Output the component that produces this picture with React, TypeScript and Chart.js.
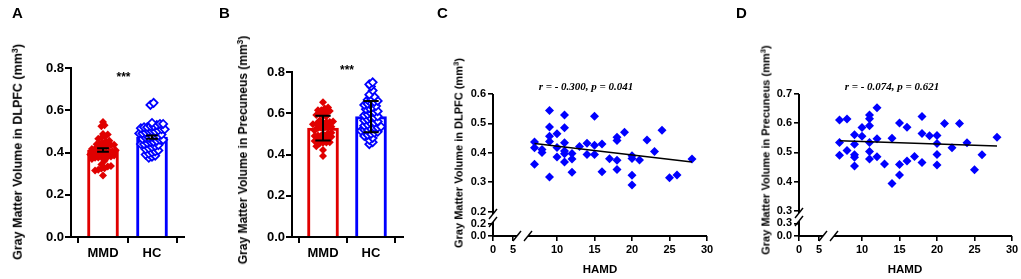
import React, { useEffect, useRef } from 'react';
import { Chart, registerables } from 'chart.js';
Chart.register(...registerables);

const RED = 'rgb(224,0,0)';
const BLUE = 'rgb(0,0,255)';
const SANS = '"Liberation Sans", Arial, Helvetica, sans-serif';
const SERIF = '"Liberation Serif", "Times New Roman", serif';

// ---------- Panels A / B (group bars) ----------
const groups = ['MMD', 'HC'];
const meanDLPFC = [0.412, 0.473];
const errDLPFC = [0.008, 0.008];
const meanPrec = [0.528, 0.584];
const errPrec = [0.06, 0.076];
const hcDLPFC = [0.635, 0.625, 0.54, 0.535, 0.535, 0.53, 0.525, 0.525, 0.52, 0.52, 0.515, 0.51, 0.51, 0.505, 0.5, 0.5, 0.5, 0.495, 0.49, 0.49, 0.485, 0.48, 0.48, 0.475, 0.47, 0.47, 0.465, 0.46, 0.46, 0.455, 0.45, 0.45, 0.445, 0.44, 0.44, 0.435, 0.43, 0.425, 0.42, 0.415, 0.41, 0.405, 0.4, 0.395, 0.39, 0.385, 0.38, 0.375];
const hcPrec = [0.75, 0.74, 0.73, 0.71, 0.69, 0.68, 0.67, 0.665, 0.66, 0.655, 0.65, 0.645, 0.64, 0.635, 0.63, 0.625, 0.62, 0.61, 0.605, 0.6, 0.595, 0.59, 0.585, 0.58, 0.575, 0.57, 0.565, 0.56, 0.555, 0.55, 0.545, 0.54, 0.535, 0.53, 0.53, 0.525, 0.52, 0.52, 0.515, 0.51, 0.505, 0.5, 0.495, 0.49, 0.48, 0.47, 0.46, 0.45];
const yTicksBar = [0, 0.2, 0.4, 0.6, 0.8];

// ---------- Panels C / D (HAMD correlations, MMD patients) ----------
const hamdC = [7, 7, 7, 8, 8, 9, 9, 9, 9, 9, 10, 10, 10, 11, 11, 11, 11, 11, 11, 12, 12, 12, 13, 14, 14, 15, 15, 15, 16, 16, 17, 18, 18, 18, 18, 19, 20, 20, 20, 20, 21, 22, 23, 24, 25, 26, 28];
const dlpfcC = [0.437, 0.417, 0.361, 0.411, 0.401, 0.544, 0.488, 0.456, 0.439, 0.318, 0.465, 0.418, 0.386, 0.529, 0.485, 0.434, 0.406, 0.397, 0.369, 0.398, 0.379, 0.334, 0.422, 0.433, 0.394, 0.524, 0.426, 0.394, 0.43, 0.336, 0.38, 0.453, 0.442, 0.375, 0.343, 0.47, 0.39, 0.381, 0.324, 0.291, 0.376, 0.444, 0.405, 0.477, 0.315, 0.325, 0.379];
const hamdD = [7, 7, 7, 8, 8, 9, 9, 9, 9, 9, 10, 10, 11, 11, 11, 11, 11, 11, 12, 12, 12, 13, 14, 14, 15, 15, 15, 16, 16, 17, 18, 18, 18, 19, 20, 20, 20, 20, 21, 22, 23, 24, 25, 26, 28];
const precD = [0.611, 0.534, 0.49, 0.614, 0.506, 0.56, 0.528, 0.492, 0.483, 0.453, 0.585, 0.555, 0.628, 0.615, 0.591, 0.534, 0.503, 0.477, 0.653, 0.547, 0.485, 0.46, 0.548, 0.393, 0.601, 0.458, 0.422, 0.586, 0.47, 0.486, 0.623, 0.565, 0.465, 0.557, 0.558, 0.53, 0.493, 0.457, 0.599, 0.516, 0.599, 0.533, 0.44, 0.492, 0.552];
const fitC = [{ x: 7, y: 0.432 }, { x: 28, y: 0.369 }];
const fitD = [{ x: 7, y: 0.54 }, { x: 28, y: 0.522 }];
const xTicksLow = [0, 5];
const xTicksHigh = [10, 15, 20, 25, 30];
const yTicksC = [0.2, 0.3, 0.4, 0.5, 0.6];
const yTicksCLow = [0, 0.2];
const yTicksD = [0.3, 0.4, 0.5, 0.6, 0.7];
const yTicksDLow = [0, 0.3];

// beeswarm-like arrangement: values in the same row are spread sideways
function swarm(values: number[], center: number, bin: number, step: number) {
  const sorted = [...values].sort((a, b) => a - b);
  const rows = new Map<number, number[]>();
  for (const v of sorted) {
    const k = Math.round(v / bin);
    if (!rows.has(k)) rows.set(k, []);
    rows.get(k)!.push(v);
  }
  const pts: { x: number; y: number }[] = [];
  rows.forEach((row) => {
    const n = row.length;
    row.forEach((v, i) => pts.push({ x: center + (i - (n - 1) / 2) * step, y: v }));
  });
  return pts;
}

function errorBar(center: number, mean: number, err: number, cap: number) {
  return [
    { x: center - cap, y: mean + err }, { x: center + cap, y: mean + err }, { x: center, y: null },
    { x: center, y: mean + err }, { x: center, y: mean - err }, { x: center, y: null },
    { x: center - cap, y: mean - err }, { x: center + cap, y: mean - err },
  ];
}

function barConfig(p: any) {
  const tickFont = { family: SANS, size: 13, weight: 'bold' as const };
  const grid = { display: true, drawOnChartArea: false, drawTicks: true, tickLength: 6, color: '#000', lineWidth: 2 };
  const border = { display: true, color: '#000', width: 2 };
  return {
    type: 'scatter',
    data: {
      datasets: [
        { type: 'bar', data: p.means.map((m: number, i: number) => ({ x: i, y: m })), backgroundColor: '#fff', borderColor: [RED, BLUE], borderWidth: 3, barThickness: 31, order: 3 },
        { type: 'scatter', data: swarm(p.mmd, 0, p.bin, p.step), pointStyle: 'rectRot', radius: 4, backgroundColor: RED, borderColor: RED, borderWidth: 0, order: 2 },
        { type: 'scatter', data: swarm(p.hc, 1, p.bin, p.step), pointStyle: 'rectRot', radius: 4, backgroundColor: '#fff', borderColor: BLUE, borderWidth: 1.8, order: 2 },
        ...p.means.map((m: number, i: number) => ({ type: 'line', data: errorBar(i, m, p.errs[i], p.cap), borderColor: '#000', borderWidth: 2, pointRadius: 0, showLine: true, spanGaps: false, fill: false, order: 1 })),
      ],
    },
    options: {
      animation: false, responsive: false, events: [],
      layout: { padding: { top: p.top, right: p.padRight, left: 0, bottom: 0 } },
      plugins: { legend: { display: false }, tooltip: { enabled: false } },
      scales: {
        x: {
          type: 'linear', position: 'bottom', min: p.xMin, max: p.xMax, offset: false, grid, border,
          ticks: { font: tickFont, color: '#000', padding: 3, autoSkip: false, source: 'data', maxRotation: 0, minRotation: 0, callback: (_v: any, i: number) => groups[i] },
          afterBuildTicks: (s: any) => { s.ticks = [0, 1].map((v) => ({ value: v })); },
          afterFit: (s: any) => { s.height = 42; },
        },
        y: {
          type: 'linear', position: 'left', min: 0, max: 0.8, grid, border,
          ticks: { font: tickFont, color: '#000', padding: 1, autoSkip: false, source: 'data', callback: (v: number) => v.toFixed(1) },
          afterBuildTicks: (s: any) => { s.ticks = yTicksBar.map((v) => ({ value: v })); },
          afterFit: (s: any) => { s.width = p.yWidth; },
        },
      },
    },
  };
}

// broken axis lines with "//" marks, drawn along the library's stacked scales
const breakAxes = {
  id: 'breakAxes',
  afterDraw(chart: any) {
    const { ctx, scales, chartArea } = chart;
    const { yU, yL, xL, xR } = scales;
    const x0 = chartArea.left;
    const yb = chartArea.bottom;
    const line = (a: number, b: number, c: number, d: number, w: number) => { ctx.beginPath(); ctx.lineWidth = w; ctx.moveTo(a, b); ctx.lineTo(c, d); ctx.stroke(); };
    const slash = (cx: number, cy: number) => line(cx - 4, cy + 5, cx + 4, cy - 5, 1.4);
    ctx.save();
    ctx.strokeStyle = '#000';
    const uEnd = yU.bottom - 4;
    const lStart = yL.top + 4;
    line(x0, yU.top, x0, uEnd, 2);
    line(x0, lStart, x0, yb + 1, 2);
    slash(x0, uEnd);
    slash(x0, lStart);
    const lEnd = xL.right - 5;
    const rStart = xR.left + 6;
    line(x0 - 1, yb, lEnd, yb, 2);
    line(rStart, yb, xR.right, yb, 2);
    slash(lEnd, yb);
    slash(rStart, yb);
    ctx.restore();
  },
};

function scatterConfig(p: any) {
  const tickFont = { family: SANS, size: 11, weight: 'bold' as const };
  const grid = { display: true, drawOnChartArea: false, drawTicks: true, tickLength: 5, color: '#000', lineWidth: 1.6 };
  const axis = (ticks: number[], fmt: (v: number) => string) => ({
    type: 'linear', grid, border: { display: false },
    ticks: { font: tickFont, color: '#000', padding: 2, autoSkip: false, source: 'data', maxRotation: 0, minRotation: 0, callback: fmt },
    afterBuildTicks: (s: any) => { s.ticks = ticks.map((v) => ({ value: v })); },
  });
  const yFmt = (v: number) => v.toFixed(1);
  const xFmt = (v: number) => String(v);
  return {
    type: 'scatter',
    data: {
      datasets: [
        { type: 'scatter', data: p.xs.map((h: number, i: number) => ({ x: h, y: p.ys[i] })), xAxisID: 'xR', yAxisID: 'yU', pointStyle: 'rectRot', radius: 4.5, backgroundColor: BLUE, borderColor: BLUE, borderWidth: 0, order: 2 },
        { type: 'line', data: p.fit, xAxisID: 'xR', yAxisID: 'yU', borderColor: '#000', borderWidth: 1.5, pointRadius: 0, showLine: true, fill: false, order: 1 },
      ],
    },
    options: {
      animation: false, responsive: false, events: [],
      layout: { padding: { top: 94, right: p.padRight, left: 0, bottom: 0 } },
      plugins: { legend: { display: false }, tooltip: { enabled: false } },
      scales: {
        yL: { ...axis(p.yLowTicks, yFmt), position: 'left', stack: 'y', stackWeight: p.yLW, min: 0, max: p.yLowMax, afterFit: (s: any) => { s.width = p.yWidth; } },
        yU: { ...axis(p.yTicks, yFmt), position: 'left', stack: 'y', stackWeight: p.yUW, min: p.yMin, max: p.yMax, afterFit: (s: any) => { s.width = p.yWidth; } },
        xL: { ...axis(xTicksLow, xFmt), position: 'bottom', stack: 'x', stackWeight: 29, min: 0, max: 7.25, afterFit: (s: any) => { s.height = 43; } },
        xR: { ...axis(xTicksHigh, xFmt), position: 'bottom', stack: 'x', stackWeight: p.xRW, min: p.xRMin, max: 30, afterFit: (s: any) => { s.height = 43; } },
      },
    },
    plugins: [breakAxes],
  };
}

function ChartCanvas({ left, width, make }: { left: number; width: number; make: () => any }) {
  const ref = useRef<HTMLCanvasElement>(null);
  useEffect(() => {
    const chart = new Chart(ref.current as HTMLCanvasElement, make());
    return () => chart.destroy();
  }, []);
  return <canvas ref={ref} width={width} height={279} style={{ position: 'absolute', left, top: 0, width, height: 279, display: 'block' }} />;
}

const abs = (x: number, y: number, extra: any = {}) => ({
  position: 'absolute' as const, left: x, top: y, transform: 'translate(-50%,-50%)', whiteSpace: 'nowrap' as const, lineHeight: 1, color: '#000', ...extra,
});

function YTitle({ x, y, size, region }: { x: number; y: number; size: number; region: string }) {
  return (
    <div style={abs(x, y, { transform: 'translate(-50%,-50%) rotate(-90deg)', fontFamily: SANS, fontWeight: 'bold', fontSize: size })}>
      {`Gray Matter Volume in ${region} (mm`}
      <sup style={{ fontSize: '0.7em', lineHeight: 0, verticalAlign: '0.5em' }}>3</sup>
      {')'}
    </div>
  );
}

function Letter({ x, t }: { x: number; t: string }) {
  return <div style={{ position: 'absolute', left: x, top: 5, fontFamily: SANS, fontWeight: 'bold', fontSize: 15, lineHeight: '15px', color: '#000' }}>{t}</div>;
}

export default function App() {
  return (
    <div style={{ position: 'fixed', left: 0, top: 0, width: 1021, height: 279, background: '#fff', overflow: 'hidden' }}>
      <ChartCanvas left={0} width={225} make={() => barConfig({ means: meanDLPFC, errs: errDLPFC, mmd: dlpfcC, hc: hcDLPFC, bin: 0.025, step: 0.065, cap: 0.12, top: 68, padRight: 41, yWidth: 71, xMin: -0.653, xMax: 1.653 })} />
      <ChartCanvas left={225} width={185} make={() => barConfig({ means: meanPrec, errs: errPrec, mmd: precD, hc: hcPrec, bin: 0.025, step: 0.07, cap: 0.16, top: 72, padRight: 7, yWidth: 67, xMin: -0.646, xMax: 1.667 })} />
      <ChartCanvas left={440} width={280} make={() => scatterConfig({ xs: hamdC, ys: dlpfcC, fit: fitC, yTicks: yTicksC, yLowTicks: yTicksCLow, yMin: 0.1786, yMax: 0.6, yLowMax: 0.3, yUW: 124, yLW: 18, xRW: 185, xRMin: 5.333, yWidth: 53, padRight: 13 })} />
      <ChartCanvas left={740} width={281} make={() => scatterConfig({ xs: hamdD, ys: precD, fit: fitD, yTicks: yTicksD, yLowTicks: yTicksDLow, yMin: 0.2784, yMax: 0.7, yLowMax: 0.449, yUW: 123, yLW: 19, xRW: 184, xRMin: 5.467, yWidth: 59, padRight: 9 })} />

      <Letter x={12} t="A" />
      <Letter x={219} t="B" />
      <Letter x={437} t="C" />
      <Letter x={736} t="D" />

      <div style={abs(123.5, 77, { fontFamily: SANS, fontWeight: 'bold', fontSize: 12 })}>***</div>
      <div style={abs(347, 70, { fontFamily: SANS, fontWeight: 'bold', fontSize: 12 })}>***</div>

      <YTitle x={18} y={152} size={12.5} region="DLPFC" />
      <YTitle x={243} y={150} size={12} region="Precuneus" />
      <YTitle x={459} y={153} size={11} region="DLPFC" />
      <YTitle x={766} y={150} size={11} region="Precuneus" />

      <div style={abs(586, 86, { fontFamily: SERIF, fontWeight: 'bold', fontStyle: 'italic', fontSize: 11 })}>r = - 0.300, p = 0.041</div>
      <div style={abs(892, 86, { fontFamily: SERIF, fontWeight: 'bold', fontStyle: 'italic', fontSize: 11 })}>r = - 0.074, p = 0.621</div>

      <div style={abs(600, 270, { fontFamily: SANS, fontWeight: 'bold', fontSize: 11.5 })}>HAMD</div>
      <div style={abs(905, 270, { fontFamily: SANS, fontWeight: 'bold', fontSize: 11.5 })}>HAMD</div>
    </div>
  );
}
